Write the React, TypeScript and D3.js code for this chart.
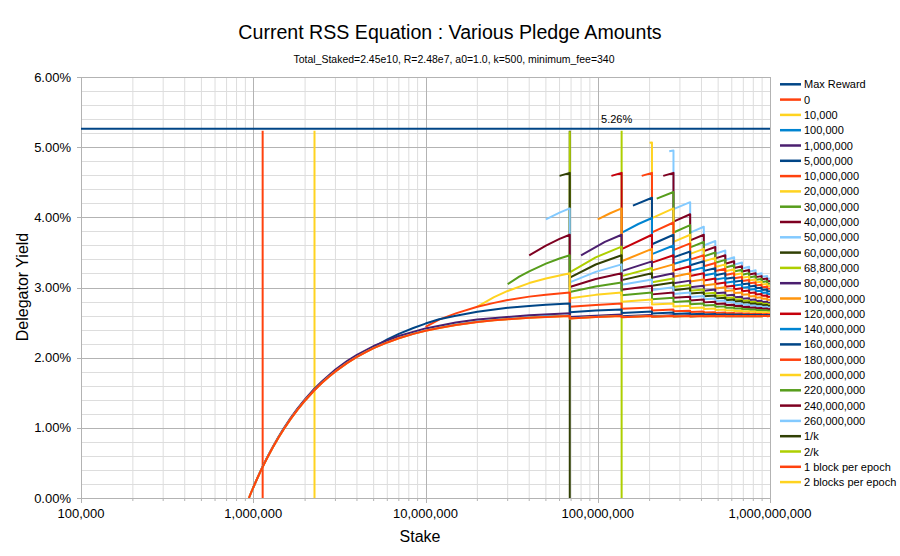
import { useEffect, useRef } from "react"
import * as d3 from "d3"

// stake in millions of ADA, delegator yield in %
const kMultiples = [68.8, 137.6, 206.4, 275.2, 344, 412.8, 481.6, 550.4, 619.2, 688, 756.8, 825.6, 894.4, 963.2]
const lastStake = 1000
const seg2Mid = 97.3
const maxReward = 5.263
const markers = [
  { name: "1/k", stake: 68.8, color: "#314004" },
  { name: "2/k", stake: 137.6, color: "#aecf00" },
  { name: "1 block per epoch", stake: 1.134, color: "#ff420e" },
  { name: "2 blocks per epoch", stake: 2.268, color: "#ffd320" },
]

const xTicks = [0.1, 1, 10, 100, 1000]
const yTicks = [0, 1, 2, 3, 4, 5, 6]

// low stake part shared by the smallest pledges
const baseHead = [[0.944, 0], [0.97, 0.072], [1, 0.149], [1.05, 0.267], [1.1, 0.375], [1.15, 0.473], [1.2, 0.563], [1.3, 0.722], [1.4, 0.858], [1.5, 0.976], [1.65, 1.127], [1.8, 1.252], [2, 1.39], [2.25, 1.528], [2.5, 1.638], [2.75, 1.728], [3, 1.804], [3.5, 1.922], [4, 2.01], [4.5, 2.079], [5, 2.135], [6, 2.217], [7, 2.276], [8.5, 2.339], [10, 2.383], [12, 2.424], [15, 2.466], [20, 2.507], [25, 2.532], [30, 2.548], [40, 2.569], [50, 2.581]]
const head100k = [[0.944, 0], [0.97, 0.073], [1, 0.15], [1.05, 0.269], [1.1, 0.377], [1.15, 0.475], [1.2, 0.566], [1.3, 0.725], [1.4, 0.861], [1.5, 0.979], [1.65, 1.13], [1.8, 1.255], [2, 1.393], [2.25, 1.531], [2.5, 1.641], [2.75, 1.731], [3, 1.807], [3.5, 1.926], [4, 2.014], [4.5, 2.083], [5, 2.139], [6, 2.221], [7, 2.28], [8.5, 2.343], [10, 2.387], [12, 2.428], [15, 2.47], [20, 2.511], [25, 2.536], [30, 2.552], [40, 2.573], [50, 2.585]]
const head1M = [[1, 0.15], [1.05, 0.269], [1.1, 0.379], [1.15, 0.479], [1.2, 0.57], [1.3, 0.731], [1.4, 0.869], [1.5, 0.989], [1.65, 1.142], [1.8, 1.269], [2, 1.409], [2.25, 1.55], [2.5, 1.661], [3, 1.83], [3.5, 1.95], [4, 2.039], [5, 2.166], [7, 2.309], [10, 2.417], [15, 2.502], [20, 2.543], [40, 2.605]]
const head5M = [[5, 2.149], [6, 2.259], [7, 2.34], [8.5, 2.423], [10, 2.486], [12, 2.548], [15, 2.598], [20, 2.654], [30, 2.71], [40, 2.738], [50, 2.755]]
const head10M = [[10, 2.439], [12, 2.543], [15, 2.631], [20, 2.726], [25, 2.781], [30, 2.821], [40, 2.87], [50, 2.898]]
const head20M = [[20, 2.729], [25, 2.862], [30, 2.951], [40, 3.063], [50, 3.129]]
const head30M = [[30, 3.048], [35, 3.155], [40, 3.231], [50, 3.34], [60, 3.413]]
const head40M = [[40, 3.458], [50, 3.598], [60, 3.693]]
const head50M = [[50, 3.97], [60, 4.067]]
const head60M = [[60, 4.591]]
const head80M = [[80, 3.458], [110, 3.65]]
const head100M = [[100, 3.971], [118, 4.058]]
const head120M = [[120, 4.591]]
const head140M = [[140, 3.788], [172, 3.905]]
const head160M = [[160, 4.166]]
const head180M = [[180, 4.591]]
const head200M = [[200, 5.064]]
const head220M = [[220, 4.267]]
const head240M = [[240, 4.591]]
const head260M = [[260, 4.941]]

// yield at the end of each pool-split segment (last value at 1,000,000,000)
const ends0 = [2.595, 2.595, 2.595, 2.595, 2.595, 2.595, 2.595, 2.595, 2.595, 2.595, 2.595, 2.595, 2.595, 2.595, 2.594]
const ends100k = [2.599, 2.597, 2.596, 2.596, 2.596, 2.596, 2.596, 2.596, 2.595, 2.595, 2.595, 2.595, 2.595, 2.595, 2.594]
const ends1M = [2.633, 2.614, 2.608, 2.605, 2.603, 2.601, 2.6, 2.6, 2.599, 2.599, 2.598, 2.598, 2.598, 2.598, 2.596]
const ends5M = [2.773, 2.687, 2.657, 2.642, 2.633, 2.626, 2.622, 2.619, 2.616, 2.614, 2.612, 2.611, 2.61, 2.609, 2.607]
const ends10M = [2.93, 2.773, 2.716, 2.687, 2.669, 2.657, 2.648, 2.642, 2.637, 2.633, 2.629, 2.626, 2.624, 2.622, 2.619]
const ends20M = [3.202, 2.93, 2.828, 2.773, 2.739, 2.716, 2.7, 2.687, 2.677, 2.669, 2.663, 2.657, 2.652, 2.648, 2.644]
const ends30M = [3.46, 3.071, 2.93, 2.854, 2.806, 2.773, 2.749, 2.731, 2.716, 2.705, 2.695, 2.687, 2.68, 2.674, 2.668]
const ends40M = [3.752, 3.202, 3.025, 2.93, 2.869, 2.828, 2.797, 2.773, 2.755, 2.739, 2.727, 2.716, 2.708, 2.7, 2.692]
const ends50M = [4.127, 3.33, 3.115, 3.002, 2.93, 2.88, 2.843, 2.814, 2.792, 2.773, 2.758, 2.745, 2.734, 2.725, 2.715]
const ends60M = [4.634, 3.46, 3.202, 3.071, 2.988, 2.93, 2.887, 2.854, 2.828, 2.806, 2.788, 2.773, 2.76, 2.749, 2.738]
const ends68M = [5.226, 3.582, 3.277, 3.129, 3.037, 2.973, 2.925, 2.888, 2.858, 2.834, 2.814, 2.797, 2.783, 2.77, 2.758]
const ends80M = [3.752, 3.373, 3.202, 3.098, 3.025, 2.971, 2.93, 2.897, 2.869, 2.847, 2.828, 2.811, 2.797, 2.783]
const ends100M = [4.127, 3.551, 3.33, 3.202, 3.115, 3.051, 3.002, 2.962, 2.93, 2.903, 2.88, 2.86, 2.843, 2.826]
const ends120M = [4.634, 3.752, 3.46, 3.304, 3.202, 3.128, 3.071, 3.025, 2.988, 2.956, 2.93, 2.907, 2.887, 2.867]
const ends140M = [3.99, 3.599, 3.407, 3.287, 3.202, 3.137, 3.086, 3.043, 3.008, 2.978, 2.952, 2.93, 2.906]
const ends160M = [4.279, 3.752, 3.514, 3.373, 3.275, 3.202, 3.144, 3.098, 3.058, 3.025, 2.996, 2.971, 2.947]
const ends180M = [4.634, 3.926, 3.628, 3.46, 3.348, 3.266, 3.202, 3.15, 3.107, 3.071, 3.039, 3.012, 2.985]
const ends200M = [5.068, 4.127, 3.752, 3.551, 3.422, 3.33, 3.259, 3.202, 3.155, 3.115, 3.081, 3.051, 3.021]
const ends220M = [4.361, 3.89, 3.648, 3.498, 3.394, 3.316, 3.253, 3.202, 3.159, 3.122, 3.09, 3.058]
const ends240M = [4.634, 4.044, 3.752, 3.578, 3.46, 3.373, 3.304, 3.248, 3.202, 3.162, 3.128, 3.093]
const ends260M = [4.951, 4.216, 3.866, 3.662, 3.528, 3.431, 3.356, 3.295, 3.245, 3.202, 3.165, 3.128]

// yield right after each split
const starts0 = [2.559, 2.577, 2.583, 2.586, 2.588, 2.589, 2.59, 2.59, 2.591, 2.591, 2.592, 2.592, 2.592, 2.592]
const starts100k = [2.561, 2.578, 2.584, 2.587, 2.588, 2.59, 2.59, 2.591, 2.591, 2.592, 2.592, 2.592, 2.592, 2.593]
const starts1M = [2.578, 2.59, 2.592, 2.594, 2.594, 2.594, 2.595, 2.595, 2.595, 2.595, 2.595, 2.595, 2.595, 2.595]
const starts5M = [2.648, 2.638, 2.63, 2.623, 2.619, 2.616, 2.613, 2.612, 2.61, 2.609, 2.608, 2.607, 2.606, 2.605]
const starts10M = [2.724, 2.696, 2.673, 2.66, 2.65, 2.642, 2.636, 2.632, 2.629, 2.626, 2.623, 2.621, 2.619, 2.618]
const starts20M = [2.846, 2.798, 2.757, 2.728, 2.708, 2.693, 2.68, 2.672, 2.665, 2.659, 2.654, 2.649, 2.646, 2.642]
const starts30M = [2.937, 2.888, 2.833, 2.793, 2.763, 2.742, 2.725, 2.711, 2.7, 2.691, 2.683, 2.677, 2.671, 2.667]
const starts40M = [3.008, 2.967, 2.902, 2.853, 2.816, 2.788, 2.766, 2.749, 2.735, 2.723, 2.713, 2.704, 2.697, 2.69]
const starts50M = [3.072, 3.039, 2.966, 2.909, 2.866, 2.832, 2.806, 2.785, 2.768, 2.753, 2.741, 2.731, 2.721, 2.714]
const starts60M = [3.142, 3.105, 3.026, 2.962, 2.913, 2.875, 2.845, 2.82, 2.8, 2.783, 2.769, 2.756, 2.746, 2.736]
const starts68M = [3.217, 3.162, 3.076, 3.007, 2.953, 2.911, 2.878, 2.85, 2.828, 2.809, 2.793, 2.779, 2.767, 2.756]
const starts80M = [3.234, 3.138, 3.061, 3.002, 2.955, 2.918, 2.887, 2.862, 2.84, 2.822, 2.806, 2.793, 2.781]
const starts100M = [3.374, 3.244, 3.154, 3.085, 3.03, 2.986, 2.951, 2.921, 2.895, 2.873, 2.854, 2.838, 2.823]
const starts120M = [3.548, 3.354, 3.243, 3.163, 3.101, 3.051, 3.011, 2.976, 2.947, 2.922, 2.9, 2.881, 2.865]
const starts140M = [3.475, 3.334, 3.24, 3.17, 3.114, 3.068, 3.03, 2.997, 2.969, 2.945, 2.923, 2.904]
const starts160M = [3.616, 3.429, 3.317, 3.237, 3.174, 3.124, 3.081, 3.046, 3.015, 2.988, 2.964, 2.943]
const starts180M = [3.785, 3.533, 3.397, 3.304, 3.234, 3.178, 3.131, 3.092, 3.059, 3.029, 3.003, 2.98]
const starts200M = [3.989, 3.65, 3.48, 3.372, 3.293, 3.231, 3.181, 3.138, 3.101, 3.07, 3.042, 3.017]
const starts220M = [3.784, 3.571, 3.443, 3.353, 3.284, 3.229, 3.183, 3.143, 3.109, 3.079, 3.052]
const starts240M = [3.938, 3.671, 3.518, 3.415, 3.338, 3.277, 3.227, 3.185, 3.148, 3.116, 3.087]
const starts260M = [4.116, 3.781, 3.598, 3.479, 3.392, 3.326, 3.271, 3.225, 3.186, 3.152, 3.121]

// value half way (log) through the second segment
const mid2 = [2.58, 2.58, 2.582, 2.599, 2.671, 2.752, 2.895, 3.015, 3.122, 3.223, 3.328, 3.43]

const pledges = [
  { name: "0", color: "#ff420e", head: baseHead, ends: ends0, starts: starts0, from: 0 },
  { name: "10,000", color: "#ffd320", head: baseHead, ends: ends0, starts: starts0, from: 0 },
  { name: "100,000", color: "#0084d1", head: head100k, ends: ends100k, starts: starts100k, from: 0 },
  { name: "1,000,000", color: "#4b1f6f", head: head1M, ends: ends1M, starts: starts1M, from: 0 },
  { name: "5,000,000", color: "#004586", head: head5M, ends: ends5M, starts: starts5M, from: 0 },
  { name: "10,000,000", color: "#ff420e", head: head10M, ends: ends10M, starts: starts10M, from: 0 },
  { name: "20,000,000", color: "#ffd320", head: head20M, ends: ends20M, starts: starts20M, from: 0 },
  { name: "30,000,000", color: "#579d1c", head: head30M, ends: ends30M, starts: starts30M, from: 0 },
  { name: "40,000,000", color: "#7e0021", head: head40M, ends: ends40M, starts: starts40M, from: 0 },
  { name: "50,000,000", color: "#83caff", head: head50M, ends: ends50M, starts: starts50M, from: 0 },
  { name: "60,000,000", color: "#314004", head: head60M, ends: ends60M, starts: starts60M, from: 0 },
  { name: "68,800,000", color: "#aecf00", head: [], ends: ends68M, starts: starts68M, from: 0 },
  { name: "80,000,000", color: "#4b1f6f", head: head80M, ends: ends80M, starts: starts80M, from: 1 },
  { name: "100,000,000", color: "#ff950e", head: head100M, ends: ends100M, starts: starts100M, from: 1 },
  { name: "120,000,000", color: "#c5000b", head: head120M, ends: ends120M, starts: starts120M, from: 1 },
  { name: "140,000,000", color: "#0084d1", head: head140M, ends: ends140M, starts: starts140M, from: 2 },
  { name: "160,000,000", color: "#004586", head: head160M, ends: ends160M, starts: starts160M, from: 2 },
  { name: "180,000,000", color: "#ff420e", head: head180M, ends: ends180M, starts: starts180M, from: 2 },
  { name: "200,000,000", color: "#ffd320", head: head200M, ends: ends200M, starts: starts200M, from: 2 },
  { name: "220,000,000", color: "#579d1c", head: head220M, ends: ends220M, starts: starts220M, from: 3 },
  { name: "240,000,000", color: "#7e0021", head: head240M, ends: ends240M, starts: starts240M, from: 3 },
  { name: "260,000,000", color: "#83caff", head: head260M, ends: ends260M, starts: starts260M, from: 3 },
]

function buildPoints(p: (typeof pledges)[number], mid?: number) {
  const pts: number[][] = p.head.slice()
  for (let i = p.from; i < kMultiples.length; i++) {
    pts.push([kMultiples[i], p.ends[i - p.from]])
    pts.push([kMultiples[i], p.starts[i - p.from]])
    if (i === 0 && mid != null) pts.push([seg2Mid, mid])
  }
  pts.push([lastStake, p.ends[p.ends.length - 1]])
  return pts
}

const FONT = "'Liberation Sans', Arial, sans-serif"

export default function App() {
  const svgRef = useRef<SVGSVGElement>(null)

  useEffect(() => {
    if (!svgRef.current) return
    document.body.style.margin = "0"
    const svg = d3.select(svgRef.current)
    svg.selectAll("*").remove()

    const left = 81
    const right = 770
    const top = 77
    const bottom = 498

    const x = d3.scaleLog().domain([0.1, 1000]).range([left, right])
    const y = d3.scaleLinear().domain([0, 6]).range([bottom, top])

    svg.append("rect").attr("width", 900).attr("height", 556).attr("fill", "#fff")

    // Title
    svg.append("text").attr("x", 450).attr("y", 39).attr("text-anchor", "middle")
      .attr("font-family", FONT).attr("font-size", 19.6).attr("fill", "#000")
      .text("Current RSS Equation : Various Pledge Amounts")
    svg.append("text").attr("x", 454).attr("y", 63).attr("text-anchor", "middle")
      .attr("font-family", "'Liberation Sans Narrow', " + FONT).attr("font-size", 11).attr("fill", "#000")
      .attr("textLength", 321).attr("lengthAdjust", "spacingAndGlyphs")
      .text("Total_Staked=2.45e10, R=2.48e7, a0=1.0, k=500, minimum_fee=340")

    // Grid
    const minorX: number[] = []
    xTicks.slice(0, -1).forEach((d) => { for (let k = 2; k <= 9; k++) minorX.push(d * k) })
    const minorY = d3.range(0, 30).map((i) => i * 0.2).filter((v) => Math.abs(v - Math.round(v)) > 0.01)

    const grid = svg.append("g")
    grid.selectAll(".mx").data(minorX).enter().append("line")
      .attr("x1", (d) => x(d)).attr("x2", (d) => x(d)).attr("y1", top).attr("y2", bottom)
      .attr("stroke", "#dddddd").attr("stroke-width", 1)
    grid.selectAll(".my").data(minorY).enter().append("line")
      .attr("x1", left).attr("x2", right).attr("y1", (d) => Math.round(y(d)) + 0.5).attr("y2", (d) => Math.round(y(d)) + 0.5)
      .attr("stroke", "#dddddd").attr("stroke-width", 1)
    grid.selectAll(".Mx").data(xTicks).enter().append("line")
      .attr("x1", (d) => Math.round(x(d)) + 0.5).attr("x2", (d) => Math.round(x(d)) + 0.5).attr("y1", top).attr("y2", bottom + 5)
      .attr("stroke", "#b3b3b3").attr("stroke-width", 1)
    grid.selectAll(".My").data(yTicks).enter().append("line")
      .attr("x1", left - 4).attr("x2", right).attr("y1", (d) => Math.round(y(d)) + 0.5).attr("y2", (d) => Math.round(y(d)) + 0.5)
      .attr("stroke", "#b3b3b3").attr("stroke-width", 1)
    grid.selectAll(".mt").data(minorX).enter().append("line")
      .attr("x1", (d) => x(d)).attr("x2", (d) => x(d)).attr("y1", bottom).attr("y2", bottom + 3)
      .attr("stroke", "#b3b3b3").attr("stroke-width", 1)

    // Axis labels
    svg.append("g").selectAll("text").data(xTicks).enter().append("text")
      .attr("x", (d) => x(d)).attr("y", 518).attr("text-anchor", "middle")
      .attr("font-family", FONT).attr("font-size", 13).attr("fill", "#000")
      .text((d) => d3.format(",")(Math.round(d * 1e6)))
    svg.append("g").selectAll("text").data(yTicks).enter().append("text")
      .attr("x", 71).attr("y", (d) => y(d) + 4.5).attr("text-anchor", "end")
      .attr("font-family", FONT).attr("font-size", 13).attr("fill", "#000")
      .text((d) => `${d.toFixed(2)}%`)
    svg.append("text").attr("x", 420).attr("y", 542).attr("text-anchor", "middle")
      .attr("font-family", FONT).attr("font-size", 16).attr("fill", "#000").text("Stake")
    svg.append("text").attr("transform", "translate(28,287) rotate(-90)").attr("text-anchor", "middle")
      .attr("font-family", FONT).attr("font-size", 16).attr("fill", "#000").text("Delegator Yield")

    // Plot
    svg.append("clipPath").attr("id", "plot-clip").append("rect")
      .attr("x", left).attr("y", top - 2).attr("width", right - left + 1).attr("height", bottom - top + 2)
    const plot = svg.append("g").attr("clip-path", "url(#plot-clip)")

    const line = d3.line<number[]>().x((d) => x(d[0])).y((d) => y(d[1]))

    // later series sit underneath earlier ones
    markers.slice().reverse().forEach((m) => {
      plot.append("path").datum([[m.stake, 0], [m.stake, maxReward - 0.03]])
        .attr("fill", "none").attr("stroke", m.color).attr("stroke-width", 2).attr("d", line)
    })
    pledges.slice().reverse().forEach((p) => {
      const i = pledges.indexOf(p)
      plot.append("path").datum(buildPoints(p, mid2[i]))
        .attr("fill", "none").attr("stroke", p.color).attr("stroke-width", 2)
        .attr("stroke-linejoin", "round").attr("d", line)
    })
    plot.append("path").datum([[0.1, maxReward], [1000, maxReward]])
      .attr("fill", "none").attr("stroke", "#004586").attr("stroke-width", 2).attr("d", line)
    svg.append("text").attr("x", x(kMultiples[1]) - 5).attr("y", y(maxReward) - 6).attr("text-anchor", "middle")
      .attr("font-family", FONT).attr("font-size", 11).attr("fill", "#000").text("5.26%")

    // Legend
    const legendItems = [
      { name: "Max Reward", color: "#004586" },
      ...pledges.map((p) => ({ name: p.name, color: p.color })),
      ...markers.map((m) => ({ name: m.name, color: m.color })),
    ]
    const legend = svg.append("g")
    legendItems.forEach((d, i) => {
      const cy = 84.3 + i * 15.3
      legend.append("line").attr("x1", 780).attr("x2", 801).attr("y1", cy).attr("y2", cy)
        .attr("stroke", d.color).attr("stroke-width", 2.5)
      legend.append("text").attr("x", 804).attr("y", cy + 4).attr("font-family", FONT)
        .attr("font-size", 11).attr("fill", "#000").text(d.name)
    })
  }, [])

  return <svg ref={svgRef} width={900} height={556} style={{ display: "block" }} />
}
